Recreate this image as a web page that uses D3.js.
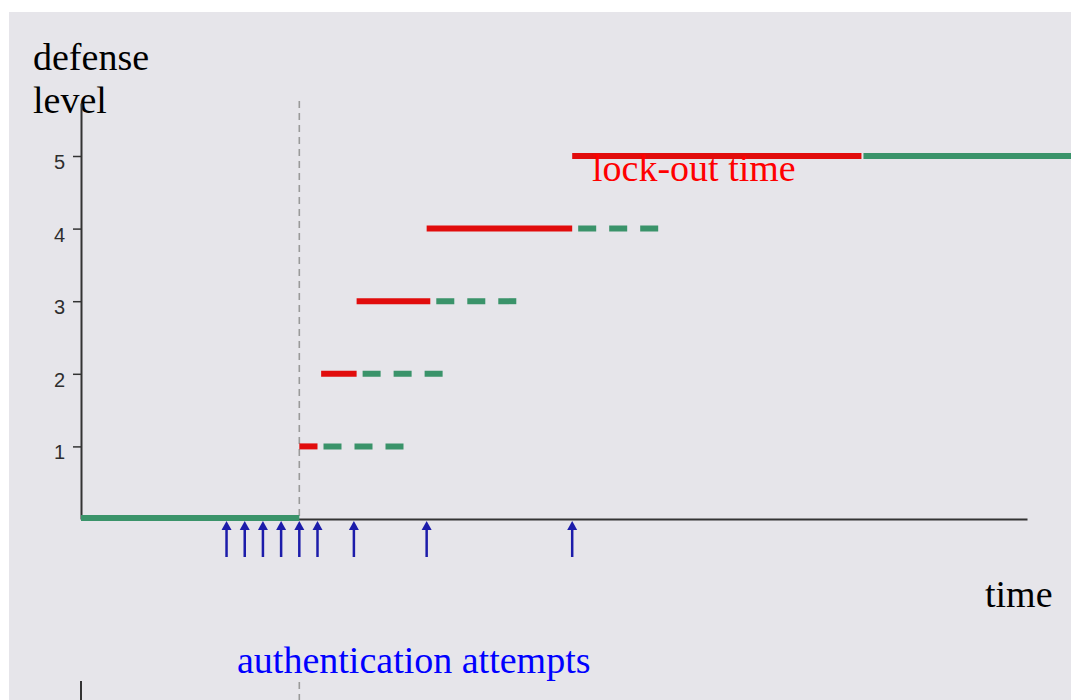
<!DOCTYPE html>
<html>
<head>
<meta charset="utf-8">
<script src="https://cdn.jsdelivr.net/npm/d3@7"></script>
<style>
  html, body { margin: 0; padding: 0; background: #ffffff; }
  svg { display: block; }
  .serif { font-family: "Liberation Serif", "Times New Roman", serif; font-size: 38px; }
</style>
</head>
<body>
<svg id="canvas" width="1071" height="700"></svg>
<script>
(function () {

    // Data, in time units (one unit = one regular attempt interval).
    var levels = [1, 2, 3, 4, 5];
    var attempts = [8, 9, 10, 11, 12, 13, 15, 19, 27];
    var lockStart = [12, 13.2, 15.15, 19, 27];
    var lockEnd = [13, 15.15, 19.2, 27, 42.9];
    var decayEnd = [17.8, 19.9, 24, 31.8, 55];
    var idleEnd = 12;           // green baseline until the first lock-out
    var timeMax = 52;
    var levelMax = 5.73;

    // Colors.
    var red = "#e10c0c";
    var green = "#3a936a";
    var arrowBlue = "#1c1caa";
    var strokeWidth = 6;

    var svg = d3.select("#canvas");

    // Gray panel with a thin white border top and left.
    svg.append("rect")
        .attr("x", 9).attr("y", 12)
        .attr("width", 1062).attr("height", 688)
        .attr("fill", "#e6e5ea");

    // Scales.
    var xScale = d3.scaleLinear().domain([0, timeMax]).range([81, 1027]);
    var yScale = d3.scaleLinear().domain([0, levelMax]).range([519, 103]);

    // Axis titles.
    svg.append("text").attr("class", "serif")
        .attr("x", 33).attr("y", 70).text("defense");
    svg.append("text").attr("class", "serif")
        .attr("x", 33).attr("y", 113).text("level");

    // Dashed marker at the first lock-out.
    svg.append("line")
        .attr("x1", xScale(idleEnd)).attr("x2", xScale(idleEnd))
        .attr("y1", 101).attr("y2", yScale(0))
        .attr("stroke", "#9a9a9a")
        .attr("stroke-width", 1.6)
        .attr("stroke-dasharray", "7 5");

    // Axes.
    var yAxis = d3.axisLeft(yScale)
        .tickValues(levels)
        .tickFormat(d3.format("d"))
        .tickSize(8)
        .tickSizeOuter(0)
        .tickPadding(8);
    var gy = svg.append("g")
        .attr("transform", "translate(" + xScale(0) + ", 0)")
        .call(yAxis);
    gy.select(".domain").attr("stroke", "#333").attr("stroke-width", 2);
    gy.selectAll(".tick line").attr("stroke", "#333").attr("stroke-width", 1.5);
    gy.selectAll(".tick text")
        .attr("fill", "#2e2e2e")
        .attr("dy", "0.62em")
        .style("font-family", "'Liberation Sans', Arial, sans-serif")
        .style("font-size", "20px");

    var xAxis = d3.axisBottom(xScale).tickValues([]).tickSizeOuter(0);
    var gx = svg.append("g")
        .attr("transform", "translate(0, " + yScale(0) + ")")
        .call(xAxis);
    gx.select(".domain").attr("stroke", "#333").attr("stroke-width", 2);

    // Idle (level 0) green line.
    svg.append("line")
        .attr("x1", xScale(0)).attr("x2", xScale(idleEnd))
        .attr("y1", yScale(0) - 1).attr("y2", yScale(0) - 1)
        .attr("stroke", green)
        .attr("stroke-width", strokeWidth);

    var rows = levels.map(function (l, i) {
        return { level: l, start: lockStart[i], end: lockEnd[i], decay: decayEnd[i] };
    });

    // Green decay periods: dashed, except the last level which stays solid.
    svg.append("g").selectAll("line")
        .data(rows)
        .join("line")
        .attr("x1", d => xScale(d.end) + (d.level === 5 ? 2 : 0))
        .attr("x2", d => xScale(d.decay))
        .attr("y1", d => yScale(d.level))
        .attr("y2", d => yScale(d.level))
        .attr("stroke", green)
        .attr("stroke-width", strokeWidth)
        .attr("stroke-dasharray", d => d.level === 5 ? null : "18 13")
        .attr("stroke-dashoffset", 25);

    // Red lock-out periods.
    svg.append("g").selectAll("line")
        .data(rows)
        .join("line")
        .attr("x1", d => xScale(d.start))
        .attr("x2", d => xScale(d.end))
        .attr("y1", d => yScale(d.level))
        .attr("y2", d => yScale(d.level))
        .attr("stroke", red)
        .attr("stroke-width", strokeWidth);

    // Authentication attempt arrows under the time axis.
    var base = yScale(0);
    var arrows = svg.append("g").selectAll("g")
        .data(attempts)
        .join("g")
        .attr("transform", d => "translate(" + xScale(d) + ", " + base + ")");
    arrows.append("line")
        .attr("y1", 8).attr("y2", 38)
        .attr("stroke", arrowBlue)
        .attr("stroke-width", 2.5);
    arrows.append("path")
        .attr("d", "M0,2 L5,11 L-5,11 Z")
        .attr("fill", arrowBlue);

    // Labels.
    svg.append("text").attr("class", "serif")
        .attr("x", 592).attr("y", 181)
        .attr("fill", "#ff0000")
        .text("lock-out time");
    svg.append("text").attr("class", "serif")
        .attr("x", 985).attr("y", 607)
        .text("time");
    svg.append("text").attr("class", "serif")
        .attr("x", 237).attr("y", 673)
        .attr("fill", "#0000ff")
        .text("authentication attempts");

    // Top of the next panel, cut off by the frame.
    svg.append("line")
        .attr("x1", xScale(0)).attr("x2", xScale(0))
        .attr("y1", 681).attr("y2", 700)
        .attr("stroke", "#333").attr("stroke-width", 2);
    svg.append("line")
        .attr("x1", xScale(idleEnd)).attr("x2", xScale(idleEnd))
        .attr("y1", 682).attr("y2", 700)
        .attr("stroke", "#9a9a9a")
        .attr("stroke-width", 1.6)
        .attr("stroke-dasharray", "7 5");

})();
</script>
</body>
</html>
